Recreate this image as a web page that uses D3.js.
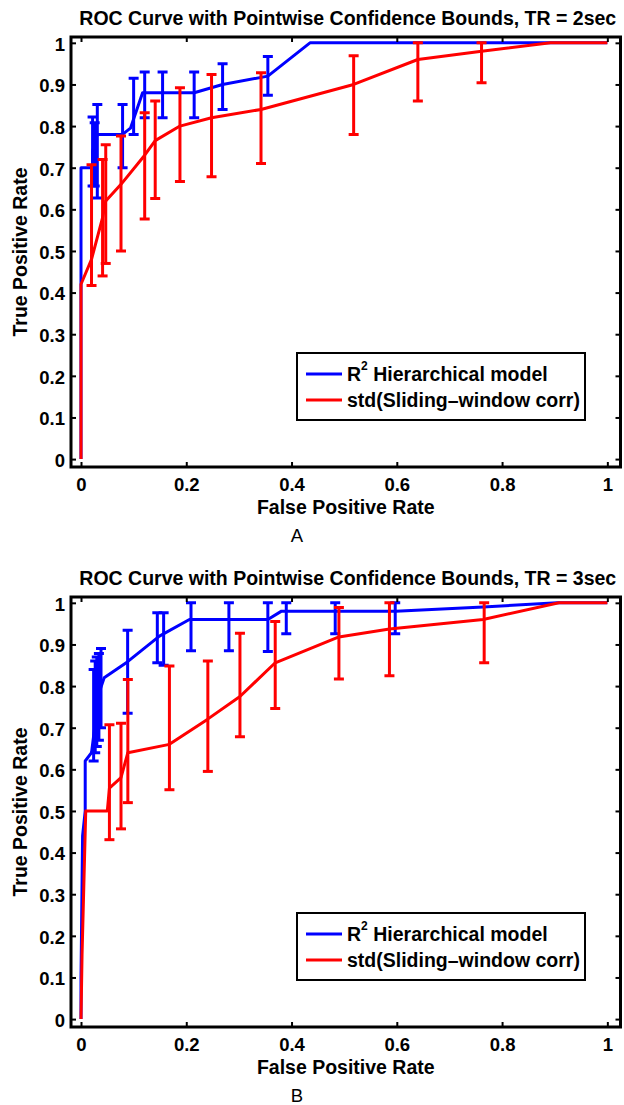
<!DOCTYPE html>
<html>
<head>
<meta charset="utf-8">
<script src="https://cdn.jsdelivr.net/npm/d3@7"></script>
<style>
  html, body { margin: 0; padding: 0; background: #fff; }
  svg { display: block; }
  text { font-family: "Liberation Sans", Arial, Helvetica, sans-serif; fill: #000; }
</style>
</head>
<body>
<svg id="chart" width="624" height="1105"></svg>
<script>
// ---------- Data ----------
const xTicks = [0, 0.2, 0.4, 0.6, 0.8, 1];
const xTickLabels = ["0", "0.2", "0.4", "0.6", "0.8", "1"];
const yTicks = [0, 0.1, 0.2, 0.3, 0.4, 0.5, 0.6, 0.7, 0.8, 0.9, 1];
const yTickLabels = ["0", "0.1", "0.2", "0.3", "0.4", "0.5", "0.6", "0.7", "0.8", "0.9", "1"];
const seriesNames = ["Hierarchical model", "std(Sliding\u2013window corr)"];
const panelTitles = [
  "ROC Curve with Pointwise Confidence Bounds, TR = 2sec",
  "ROC Curve with Pointwise Confidence Bounds, TR = 3sec"
];
const panelLetters = ["A", "B"];
const xAxisTitle = "False Positive Rate";
const yAxisTitle = "True Positive Rate";

// Panel A (TR = 2sec) — R^2 hierarchical model (blue)
const blueA_fpr = [0, 0, 0.022, 0.022, 0.031, 0.079, 0.094, 0.117, 0.215, 0.269, 0.355, 0.435, 1];
const blueA_tpr = [0, 0.70, 0.70, 0.74, 0.78, 0.78, 0.795, 0.88, 0.88, 0.90, 0.92, 1.0, 1.0];
const blueA_barX  = [0.022, 0.026, 0.031, 0.079, 0.100, 0.121, 0.155, 0.215, 0.269, 0.355];
const blueA_barLo = [0.656, 0.656, 0.627, 0.700, 0.780, 0.820, 0.820, 0.820, 0.840, 0.874];
const blueA_barHi = [0.822, 0.808, 0.852, 0.852, 0.915, 0.930, 0.930, 0.930, 0.950, 0.967];

// Panel A — std(sliding-window corr) (red)
const redA_fpr = [0, 0, 0.020, 0.041, 0.047, 0.076, 0.121, 0.141, 0.188, 0.248, 0.342, 0.518, 0.640, 0.761, 0.892, 1];
const redA_tpr = [0, 0.42, 0.48, 0.58, 0.62, 0.66, 0.73, 0.765, 0.80, 0.82, 0.84, 0.90, 0.96, 0.98, 1.0, 1.0];
const redA_barX  = [0.020, 0.041, 0.047, 0.076, 0.121, 0.141, 0.188, 0.248, 0.342, 0.518, 0.640, 0.761];
const redA_barLo = [0.417, 0.440, 0.470, 0.500, 0.577, 0.626, 0.667, 0.678, 0.710, 0.780, 0.860, 0.904];
const redA_barHi = [0.707, 0.720, 0.755, 0.776, 0.832, 0.860, 0.892, 0.924, 0.928, 0.969, 1.000, 1.000];

// Panel B (TR = 3sec) — R^2 hierarchical model (blue)
const blueB_fpr = [0, 0, 0.003, 0.008, 0.008, 0.020, 0.024, 0.030, 0.036, 0.044, 0.088, 0.149, 0.206, 0.355, 0.381, 0.598, 0.764, 0.905, 1];
const blueB_tpr = [0, 0.10, 0.44, 0.50, 0.62, 0.64, 0.68, 0.74, 0.79, 0.82, 0.858, 0.92, 0.96, 0.96, 0.98, 0.98, 0.99, 1.0, 1.0];
const blueB_barX  = [0.024, 0.027, 0.030, 0.034, 0.038, 0.0886, 0.145, 0.157, 0.209, 0.281, 0.355, 0.390, 0.483, 0.597];
const blueB_barLo = [0.620, 0.640, 0.655, 0.670, 0.700, 0.735, 0.856, 0.850, 0.885, 0.885, 0.883, 0.926, 0.926, 0.926];
const blueB_barHi = [0.840, 0.860, 0.870, 0.878, 0.890, 0.934, 0.976, 0.976, 1.000, 1.000, 1.000, 1.000, 1.000, 1.000];

// Panel B — std(sliding-window corr) (red)
const redB_fpr = [0, 0.002, 0.009, 0.050, 0.054, 0.076, 0.089, 0.168, 0.240, 0.302, 0.369, 0.490, 0.586, 0.764, 0.908, 1];
const redB_tpr = [0, 0.155, 0.50, 0.50, 0.555, 0.58, 0.64, 0.66, 0.72, 0.775, 0.856, 0.918, 0.937, 0.96, 1.0, 1.0];
const redB_barX  = [0.054, 0.076, 0.089, 0.168, 0.241, 0.302, 0.369, 0.490, 0.586, 0.766];
const redB_barLo = [0.431, 0.457, 0.520, 0.551, 0.595, 0.678, 0.746, 0.817, 0.825, 0.856];
const redB_barHi = [0.707, 0.711, 0.816, 0.848, 0.860, 0.927, 0.955, 0.989, 1.000, 1.000];

// ---------- Build ----------
const BLUE = "#0000ff", RED = "#ff0000";
const xLim = [-0.019, 1.025];
const yLim = [-0.019, 1.014];

const panels = [
  { title: panelTitles[0], letter: panelLetters[0], dy: 0,
    series: [
      { color: BLUE, fpr: blueA_fpr, tpr: blueA_tpr, bx: blueA_barX, lo: blueA_barLo, hi: blueA_barHi },
      { color: RED,  fpr: redA_fpr,  tpr: redA_tpr,  bx: redA_barX,  lo: redA_barLo,  hi: redA_barHi }
    ] },
  { title: panelTitles[1], letter: panelLetters[1], dy: 560,
    series: [
      { color: BLUE, fpr: blueB_fpr, tpr: blueB_tpr, bx: blueB_barX, lo: blueB_barLo, hi: blueB_barHi },
      { color: RED,  fpr: redB_fpr,  tpr: redB_tpr,  bx: redB_barX,  lo: redB_barLo,  hi: redB_barHi }
    ] }
];

const svg = d3.select("#chart");
svg.append("rect").attr("width", 624).attr("height", 1105).attr("fill", "#fff");

const L = 71, R = 620.5, T = 37, B = 467;

panels.forEach(p => {
  const g = svg.append("g").attr("transform", `translate(0,${p.dy})`);
  const x = d3.scaleLinear().domain(xLim).range([L, R]);
  const y = d3.scaleLinear().domain(yLim).range([B, T]);

  // Title
  g.append("text").attr("x", (L + R) / 2 + 2).attr("y", 18)
    .attr("text-anchor", "middle").attr("dominant-baseline", "central")
    .attr("font-size", 19.5).attr("font-weight", "bold").text(p.title);

  const clip = "clip" + p.letter;
  g.append("clipPath").attr("id", clip).append("rect")
    .attr("x", L).attr("y", T - 2).attr("width", R - L).attr("height", B - T + 2);

  const plot = g.append("g").attr("clip-path", `url(#${clip})`);
  const line = d3.line().x(d => x(d[0])).y(d => y(d[1]));

  p.series.forEach(s => {
    const pts = s.fpr.map((v, i) => [v, s.tpr[i]]);
    plot.append("path").attr("d", line(pts)).attr("fill", "none")
      .attr("stroke", s.color).attr("stroke-width", 3).attr("stroke-linejoin", "round");
    const bars = plot.append("g").attr("stroke", s.color).attr("stroke-width", 3).attr("fill", "none");
    s.bx.forEach((bx, i) => {
      const cx = x(bx), y0 = y(s.lo[i]), y1 = y(s.hi[i]);
      bars.append("line").attr("x1", cx).attr("x2", cx).attr("y1", y0).attr("y2", y1);
      bars.append("line").attr("x1", cx - 5).attr("x2", cx + 5).attr("y1", y0).attr("y2", y0);
      bars.append("line").attr("x1", cx - 5).attr("x2", cx + 5).attr("y1", y1).attr("y2", y1);
    });
  });

  // Axes (ticks inward)
  const fmtX = (d, i) => xTickLabels[i];
  const fmtY = (d, i) => yTickLabels[i];
  const ax = [
    g.append("g").attr("transform", `translate(0,${B})`)
      .call(d3.axisBottom(x).tickValues(xTicks).tickFormat(fmtX).tickSizeInner(-5).tickSizeOuter(0).tickPadding(11)),
    g.append("g").attr("transform", `translate(0,${T})`)
      .call(d3.axisTop(x).tickValues(xTicks).tickFormat("").tickSizeInner(-5).tickSizeOuter(0)),
    g.append("g").attr("transform", `translate(${L},0)`)
      .call(d3.axisLeft(y).tickValues(yTicks).tickFormat(fmtY).tickSizeInner(-5).tickSizeOuter(0).tickPadding(6)),
    g.append("g").attr("transform", `translate(${R},0)`)
      .call(d3.axisRight(y).tickValues(yTicks).tickFormat("").tickSizeInner(-5).tickSizeOuter(0))
  ];
  ax.forEach(a => {
    a.select(".domain").remove();
    a.selectAll(".tick line").attr("stroke", "#000").attr("stroke-width", 2);
    a.selectAll(".tick text").attr("font-size", 18.5).attr("font-weight", "bold")
      .attr("font-family", '"Liberation Sans", Arial, sans-serif').attr("fill", "#000");
  });
  ax[2].selectAll(".tick text").attr("dy", "0.4em");

  // Box
  g.append("rect").attr("x", L).attr("y", T).attr("width", R - L).attr("height", B - T)
    .attr("fill", "none").attr("stroke", "#000").attr("stroke-width", 3);

  // Axis titles
  g.append("text").attr("x", (L + R) / 2).attr("y", 507)
    .attr("text-anchor", "middle").attr("dominant-baseline", "central")
    .attr("font-size", 19.5).attr("font-weight", "bold").text(xAxisTitle);
  g.append("text").attr("transform", `translate(20,${(T + B) / 2}) rotate(-90)`)
    .attr("text-anchor", "middle").attr("dominant-baseline", "central")
    .attr("font-size", 19.5).attr("font-weight", "bold").text(yAxisTitle);

  // Panel letter
  g.append("text").attr("x", 297).attr("y", 535)
    .attr("text-anchor", "middle").attr("dominant-baseline", "central")
    .attr("font-size", 18.5).text(p.letter);

  // Legend
  const lg = g.append("g");
  lg.append("rect").attr("x", 297).attr("y", 353).attr("width", 288).attr("height", 67)
    .attr("fill", "#fff").attr("stroke", "#000").attr("stroke-width", 2);
  const rows = [374, 400];
  p.series.forEach((s, i) => {
    lg.append("line").attr("x1", 306).attr("x2", 342).attr("y1", rows[i]).attr("y2", rows[i])
      .attr("stroke", s.color).attr("stroke-width", 3);
    const t = lg.append("text").attr("x", 347).attr("y", rows[i])
      .attr("dominant-baseline", "central").attr("font-size", 19.5).attr("font-weight", "bold");
    if (i === 0) {
      t.append("tspan").text("R");
      t.append("tspan").attr("font-size", 12).attr("dy", -8).text("2");
      t.append("tspan").attr("dy", 8).text("\u00a0" + seriesNames[0]);
    } else {
      t.text(seriesNames[1]);
    }
  });
});
</script>
</body>
</html>
